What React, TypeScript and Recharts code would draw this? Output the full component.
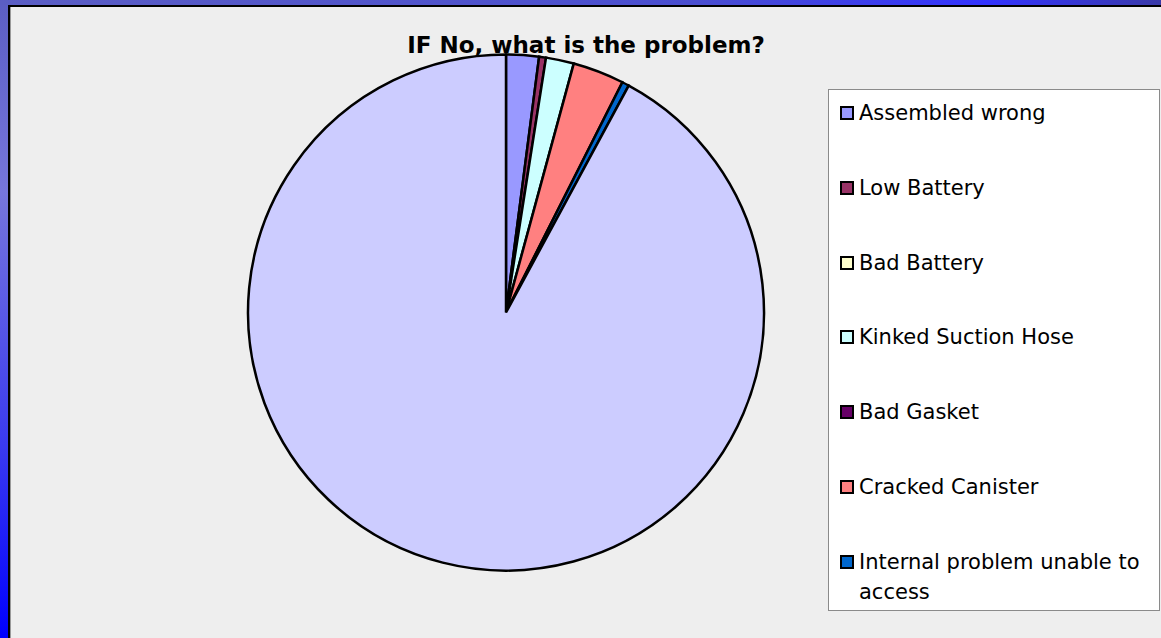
import { PieChart, Pie, Cell, Legend } from 'recharts';

// problem categories (last one has no legend entry in the source chart)
const categories = [
  'Assembled wrong',
  'Low Battery',
  'Bad Battery',
  'Kinked Suction Hose',
  'Bad Gasket',
  'Cracked Canister',
  'Internal problem unable to access',
  '(blank)',
];

// share of answers, in percent
const shares = [2.05, 0.43, 0, 1.75, 0, 3.22, 0.44, 92.11];

const colors = [
  '#9999FF',
  '#993366',
  '#FFFFCC',
  '#CCFFFF',
  '#660066',
  '#FF8080',
  '#0066CC',
  '#CCCCFF',
];

const legendCount = 7;

const data = categories.map((name, i) => ({ name, value: shares[i] }));

const font = '"DejaVu Sans", Verdana, sans-serif';

const renderLegend = () => (
  <div
    style={{
      position: 'relative',
      width: 332,
      height: 522,
      background: '#FFFFFF',
      border: '1px solid #8a8a8a',
      boxSizing: 'border-box',
      fontFamily: font,
      fontSize: 21,
      color: '#000',
    }}
  >
    {categories.slice(0, legendCount).map((name, i) => (
      <div
        key={name}
        style={{ position: 'absolute', left: 11, top: 8 + i * 74.8, display: 'flex' }}
      >
        <div
          style={{
            width: 10,
            height: 10,
            marginTop: 8,
            background: colors[i],
            border: '2px solid #000',
            flexShrink: 0,
          }}
        />
        <div style={{ marginLeft: 5, width: 292, lineHeight: '30px' }}>{name}</div>
      </div>
    ))}
  </div>
);

const App = () => {
  return (
    <div style={{ position: 'absolute', left: 0, top: 0, width: 1161, height: 638, overflow: 'hidden' }}>
      {/* slide frame */}
      <div
        style={{
          position: 'absolute', left: 0, top: 0, width: 1161, height: 638,
          background: 'linear-gradient(180deg, #5b5ec4 0%, #7676dc 30%, #3a3af0 70%, #0000ff 100%)',
        }}
      />
      <div
        style={{
          position: 'absolute', left: 0, top: 0, width: 1161, height: 5,
          background: 'linear-gradient(90deg, #5b5ec4 0%, #4a4ed0 60%, #3333ff 85%, #3a3aa8 100%)',
        }}
      />
      <div style={{ position: 'absolute', left: 8, top: 5, width: 1153, height: 633, background: '#000' }} />
      <div style={{ position: 'absolute', left: 10, top: 7, width: 1151, height: 631, background: '#9a9a9a' }} />
      <div style={{ position: 'absolute', left: 11, top: 7, width: 1150, height: 631, background: '#EEEEEE' }} />

      <div style={{ position: 'absolute', left: 0, top: 0 }}>
        <PieChart width={1161} height={638} margin={{ top: 0, right: 0, bottom: 0, left: 0 }}>
          <Pie
            data={data}
            dataKey="value"
            nameKey="name"
            cx={506}
            cy={312.5}
            outerRadius={258}
            startAngle={90}
            endAngle={-270}
            stroke="#000"
            strokeWidth={2.5}
            isAnimationActive={false}
          >
            {data.map((d, i) => (
              <Cell key={d.name} fill={colors[i]} />
            ))}
          </Pie>
          <Legend
            content={renderLegend}
            wrapperStyle={{ position: 'absolute', left: 828, top: 89, width: 332, height: 522 }}
          />
        </PieChart>
      </div>

      <div
        style={{
          position: 'absolute', left: 11, top: 34, width: 1150, textAlign: 'center',
          fontFamily: font, fontWeight: 'bold', fontSize: 23, lineHeight: '23px', color: '#000',
        }}
      >
        IF No, what is the problem?
      </div>
    </div>
  );
};

export default App;
